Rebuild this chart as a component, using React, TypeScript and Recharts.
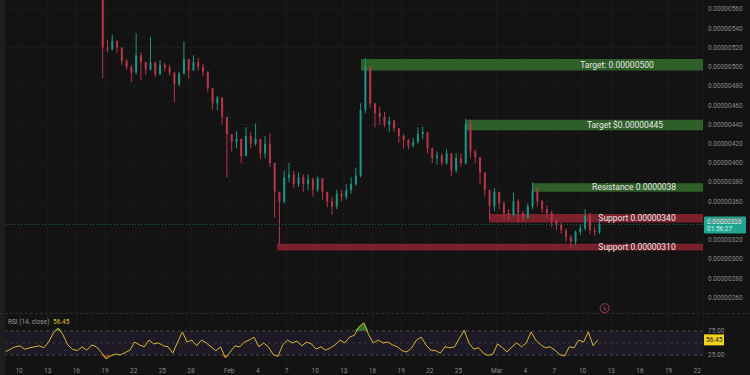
import React from "react";
import {
  ComposedChart,
  Bar,
  XAxis,
  YAxis,
  CartesianGrid,
  ReferenceArea,
  ReferenceLine,
  ReferenceDot,
  Line,
  Area,
} from "recharts";

// time axis: days after Jan 10
const DAY_TICKS = [0, 3, 6, 9, 12, 15, 18, 22, 25, 28, 31, 34, 37, 40, 43, 46, 50, 53, 56, 59, 62, 65, 68, 71];
const DAY_LABELS = ["10", "13", "16", "19", "22", "25", "28", "Feb", "4", "7", "10", "13", "16", "19", "22", "25", "Mar", "4", "7", "10", "13", "16", "19", "22"];
const X_DOMAIN: [number, number] = [-1.47, 71.6];

// prices in units of 1e-8
const PRICE_TICKS = [260, 280, 300, 320, 340, 360, 380, 400, 420, 440, 460, 480, 500, 520, 540, 560];

// 12h candles starting Jan 18.8
const CANDLE_START = 8.8;
const FIRST_OPEN = 600;
const CLOSE = [
  520, 518, 527, 520, 506, 500, 494, 512, 505, 497,
  504, 492, 502, 499, 494, 482, 493, 508, 496, 505,
  500, 495, 478, 462, 468, 448, 430, 422, 425, 407,
  428, 420, 425, 410, 420, 400, 370, 360, 385, 388,
  378, 385, 378, 383, 372, 384, 370, 360, 355, 368,
  365, 372, 378, 387, 455, 500, 462, 452, 448, 440,
  444, 436, 428, 424, 418, 422, 430, 432, 415, 405,
  408, 400, 410, 392, 405, 400, 440, 412, 406, 390,
  372, 355, 370, 358, 348, 346, 360, 348, 343, 355,
  372, 360, 352, 348, 340, 336, 330, 323, 318, 328,
  332, 345, 330, 328, 336,
];
const HIGH = [
  605, 528, 533, 526, 520, 508, 502, 535, 515, 503,
  531, 506, 507, 504, 502, 492, 495, 526, 508, 512,
  509, 503, 494, 478, 470, 468, 448, 430, 433, 422,
  437, 432, 441, 425, 428, 431, 400, 370, 392, 400,
  392, 390, 388, 388, 385, 386, 382, 368, 365, 372,
  372, 378, 385, 395, 462, 509, 500, 462, 458, 453,
  448, 445, 436, 430, 425, 426, 437, 438, 432, 416,
  412, 410, 414, 410, 410, 410, 446, 445, 414, 406,
  390, 372, 374, 370, 360, 352, 369, 362, 350, 358,
  380, 375, 362, 356, 350, 342, 338, 332, 325, 330,
  336, 352, 348, 334, 341,
];
const LOW = [
  488, 515, 517, 514, 502, 497, 484, 492, 486, 492,
  496, 489, 495, 495, 491, 463, 480, 492, 488, 497,
  496, 490, 474, 455, 455, 440, 385, 412, 415, 400,
  410, 415, 418, 404, 405, 396, 343, 315, 358, 380,
  374, 375, 370, 372, 365, 370, 362, 354, 346, 352,
  360, 362, 368, 376, 385, 452, 457, 437, 440, 437,
  432, 432, 421, 415, 414, 416, 420, 425, 410, 400,
  398, 397, 398, 386, 390, 396, 398, 405, 400, 378,
  365, 341, 350, 352, 342, 340, 344, 338, 339, 342,
  352, 355, 348, 343, 333, 330, 326, 318, 312, 315,
  325, 330, 326, 324, 326,
];

// RSI(14), one reading every 12h starting Jan 8.6
const RSI_START = -1.4;
const RSI = [
  32, 37, 42, 44, 37, 40, 42, 44, 40, 52,
  71, 81, 67, 46, 37, 34, 42, 35, 46, 42,
  31, 17, 23, 27, 25, 30, 35, 52, 46, 42,
  56, 48, 50, 44, 42, 29, 52, 73, 52, 56,
  44, 56, 50, 42, 34, 42, 19, 31, 44, 42,
  52, 56, 62, 42, 50, 42, 26, 22, 46, 56,
  50, 54, 44, 52, 48, 37, 42, 35, 40, 46,
  56, 50, 62, 66, 84, 92, 67, 50,
  56, 50, 52, 46, 42, 34, 31, 40, 56, 62,
  46, 35, 34, 29, 42, 40, 42, 60, 76, 50,
  37, 40, 29, 24, 27, 48, 40, 31, 42, 50,
  42, 50, 73, 56, 46, 40, 42, 35, 26, 23,
  42, 40, 56, 52, 73, 44, 56.45,
];

// drawn zones
const ZONE_NAMES = ["Target: 0.00000500", "Target $0.00000445", "Resistance 0.0000038", "Support 0.00000340", "Support 0.00000310"];
const ZONE_FROM = [35.8, 46.8, 53.7, 49.2, 27.0];
const ZONE_LOW = [496, 434, 370, 338, 309];
const ZONE_HIGH = [508, 445, 379, 347, 316];
const ZONE_KIND = ["target", "target", "target", "support", "support"];

const LAST_PRICE = 336;
const LAST_COUNTDOWN = "01:56:27";
const EVENT_T = 61.3;
const EVENT_PRICE = 249;

const BG = "#131313";
const UP = "#1c9683";
const DOWN = "#b8354a";
const GRID = "#1b1b1b";
const AXIS_TEXT = "#8a8a8a";
const FONT = "Roboto, 'Noto Sans', sans-serif";

const candles = CLOSE.map((c, i) => {
  const o = i === 0 ? FIRST_OPEN : CLOSE[i - 1];
  const h = Math.max(HIGH[i], o, c);
  const l = Math.min(LOW[i], o, c);
  return { t: CANDLE_START + i * 0.5, o, c, h, l, range: [l, h] };
});

const rsiData = RSI.map((v, i) => ({
  t: RSI_START + i * 0.5,
  rsi: v,
  ob: Math.max(v, 75),
  os: Math.min(v, 25),
}));

const fmtPrice = (v: number) => (v / 1e8).toFixed(8);
const fmtDay = (v: number) => {
  const i = DAY_TICKS.indexOf(v);
  return i >= 0 ? DAY_LABELS[i] : "";
};

function Candle(props: any) {
  const { x, y, width, height, payload } = props;
  if (!payload || height == null) return null;
  const { o, c, h, l } = payload;
  const span = h - l || 1;
  const toY = (v: number) => y + ((h - v) / span) * height;
  const color = c >= o ? UP : DOWN;
  const top = toY(Math.max(o, c));
  const bot = toY(Math.min(o, c));
  const cx = x + width / 2;
  return (
    <g>
      <line x1={cx} x2={cx} y1={y} y2={y + height} stroke={color} strokeWidth={1} />
      <rect x={x} y={top} width={width} height={Math.max(1, bot - top)} fill={color} />
    </g>
  );
}

const LABEL_FROM_RIGHT = [86, 78, 69, 66, 66];

function zoneLabel(text: string, fromRight: number) {
  return (p: any) => {
    const vb = p.viewBox;
    if (!vb) return null;
    return (
      <text
        x={vb.x + vb.width - fromRight}
        y={vb.y + vb.height / 2}
        textAnchor="middle"
        dominantBaseline="central"
        fill="#e6e6e6"
        fontSize={8.5}
        fontFamily={FONT}
      >
        {text}
      </text>
    );
  };
}

function PriceBadge(p: any) {
  const vb = p.viewBox;
  if (!vb) return null;
  const x = vb.x + vb.width + 1;
  return (
    <g fontFamily={FONT}>
      <rect x={x} y={vb.y - 8} width={42} height={17} rx={1} fill="#1fa58f" />
      <text x={x + 3} y={vb.y - 1} fontSize={6.5} fill="#eafff9">{fmtPrice(LAST_PRICE)}</text>
      <text x={x + 3} y={vb.y + 6.5} fontSize={6.5} fill="#d6f3ec">{LAST_COUNTDOWN}</text>
    </g>
  );
}

function RsiBadge(p: any) {
  const vb = p.viewBox;
  if (!vb) return null;
  const x = vb.x + vb.width + 1;
  return (
    <g fontFamily={FONT}>
      <rect x={x} y={vb.y - 5.5} width={20} height={11} fill="#f0d31c" />
      <text x={x + 2} y={vb.y + 2.5} fontSize={6.5} fill="#222">{RSI[RSI.length - 1].toFixed(2)}</text>
    </g>
  );
}

function EventMark(p: any) {
  const { cx, cy } = p;
  return (
    <g>
      <circle cx={cx} cy={cy} r={4.5} fill={BG} stroke="#9c3a64" strokeWidth={1} />
      <text x={cx} y={cy + 2} textAnchor="middle" fontSize={6} fill="#b04a74" fontFamily={FONT}>ϟ</text>
    </g>
  );
}

export default function App() {
  return (
    <div
      style={{
        position: "fixed",
        left: 0,
        top: 0,
        width: 750,
        height: 375,
        background: BG,
        overflow: "hidden",
        fontFamily: FONT,
      }}
    >
      <div style={{ position: "absolute", left: 0, top: 0, width: 5, height: 375, background: "#1e1e1e" }} />
      <div style={{ position: "absolute", left: 0, top: 0 }}>
        <ComposedChart width={750} height={313} data={candles} margin={{ top: 0, right: 0, bottom: 0, left: 5 }}>
          <CartesianGrid stroke={GRID} />
          <XAxis dataKey="t" type="number" domain={X_DOMAIN} ticks={DAY_TICKS} hide allowDataOverflow />
          <YAxis
            orientation="right"
            width={47}
            domain={[244, 569.4]}
            allowDataOverflow
            ticks={PRICE_TICKS}
            tickFormatter={fmtPrice}
            tick={{ fill: AXIS_TEXT, fontSize: 6.5, fontFamily: FONT }}
            axisLine={false}
            tickLine={false}
            tickSize={3}
            tickMargin={2}
          />
          {ZONE_NAMES.map((name, i) => (
            <ReferenceArea
              key={name}
              x1={ZONE_FROM[i]}
              x2={X_DOMAIN[1]}
              y1={ZONE_LOW[i]}
              y2={ZONE_HIGH[i]}
              fill={ZONE_KIND[i] === "target" ? "#3a7a32" : "#b02a3c"}
              fillOpacity={ZONE_KIND[i] === "target" ? 0.75 : 0.65}
              stroke="none"
              label={zoneLabel(name, LABEL_FROM_RIGHT[i])}
            />
          ))}
          <ReferenceLine y={LAST_PRICE} stroke="#1f5c52" strokeDasharray="1 2" label={PriceBadge} />
          <Bar dataKey="range" barSize={2} shape={Candle} isAnimationActive={false} />
          <ReferenceDot x={EVENT_T} y={EVENT_PRICE} r={4.5} shape={EventMark} />
        </ComposedChart>
      </div>
      <div style={{ position: "absolute", left: 0, top: 313, width: 750, borderTop: "1px dashed #2c2c2c" }} />
      <div style={{ position: "absolute", left: 0, top: 313 }}>
        <ComposedChart width={750} height={62} data={rsiData} margin={{ top: 0, right: 0, bottom: 0, left: 5 }}>
          <CartesianGrid stroke={GRID} horizontal={false} />
          <XAxis
            dataKey="t"
            type="number"
            domain={X_DOMAIN}
            ticks={DAY_TICKS}
            tickFormatter={fmtDay}
            height={9}
            axisLine={false}
            tickLine={false}
            tickSize={0}
            tickMargin={2}
            tick={{ fill: AXIS_TEXT, fontSize: 6.5, fontFamily: FONT }}
            allowDataOverflow
          />
          <YAxis
            orientation="right"
            width={47}
            domain={[2, 112.4]}
            ticks={[25, 75]}
            tickFormatter={(v: number) => v.toFixed(2)}
            tick={{ fill: AXIS_TEXT, fontSize: 6.5, fontFamily: FONT }}
            axisLine={false}
            tickLine={false}
            tickSize={3}
            tickMargin={2}
          />
          <ReferenceArea y1={25} y2={75} fill="#7e57c2" fillOpacity={0.1} stroke="none" />
          <ReferenceLine y={75} stroke="#4a4a4a" strokeDasharray="3 3" />
          <ReferenceLine y={50} stroke="#3a3a3a" strokeDasharray="3 3" />
          <ReferenceLine y={25} stroke="#4a4a4a" strokeDasharray="3 3" />
          <Area dataKey="ob" baseValue={75} stroke="none" fill="#3a9a3e" fillOpacity={0.7} isAnimationActive={false} />
          <Area dataKey="os" baseValue={25} stroke="none" fill="#b83a3a" fillOpacity={0.7} isAnimationActive={false} />
          <Line dataKey="rsi" stroke="#d8b72a" strokeWidth={1} dot={false} isAnimationActive={false} />
          <ReferenceLine y={RSI[RSI.length - 1]} stroke="none" label={RsiBadge} />
        </ComposedChart>
      </div>
      <div style={{ position: "absolute", left: 8, top: 318, fontSize: 6.5, color: "#9a9a9a", whiteSpace: "nowrap" }}>
        RSI (14, close) <span style={{ color: "#e0c030", marginLeft: 2 }}>{RSI[RSI.length - 1].toFixed(2)}</span>
      </div>
    </div>
  );
}
